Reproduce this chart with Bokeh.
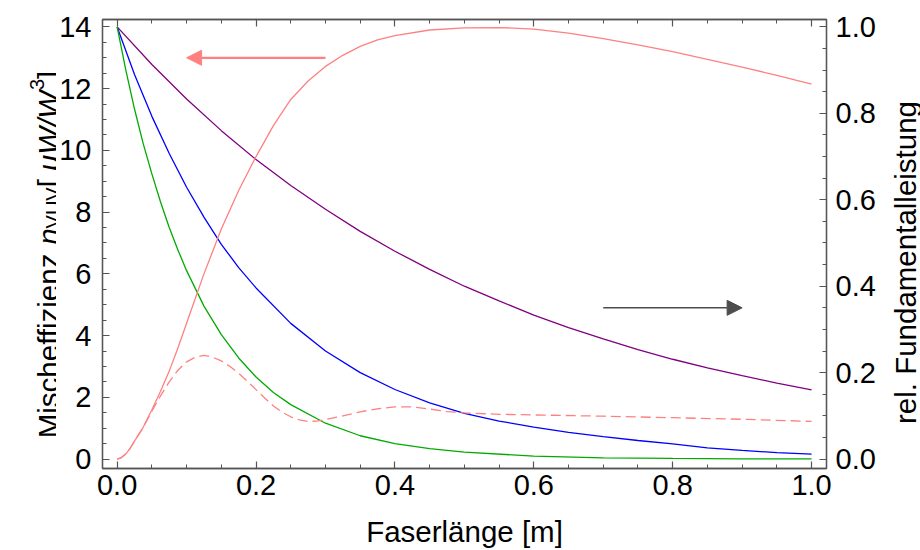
import math
from bokeh.plotting import figure
from bokeh.layouts import row
from bokeh.models import (Range1d, LinearAxis, Arrow, NormalHead,
                          SingleIntervalTicker, PrintfTickFormatter, CustomJSTickFormatter)
from bokeh.core.properties import value
from bokeh.embed import file_html
from bokeh.resources import INLINE

# ---------------- data ----------------
# mixing efficiency (left axis, µW/W^3)
x_eta = [0, 0.00625, 0.0125, 0.01875, 0.025, 0.0375, 0.05, 0.0625, 0.075, 0.0875, 0.1, 0.1125,
         0.125, 0.15, 0.175, 0.2, 0.225, 0.25, 0.275, 0.3, 0.325, 0.35, 0.375,
         0.4, 0.45, 0.5, 0.55, 0.6, 0.65, 0.7, 0.75, 0.8, 0.85, 0.9, 0.95, 1.0]
eta_solid = [0, 0.05, 0.17, 0.35, 0.58, 1.03, 1.6, 2.2, 2.85, 3.6, 4.4, 5.2,
             6.0, 7.45, 8.7, 9.8, 10.8, 11.65, 12.25, 12.72, 13.08, 13.37, 13.58,
             13.72, 13.9, 13.97, 13.98, 13.93, 13.8, 13.62, 13.42, 13.2, 12.95, 12.7, 12.43, 12.15]

x_eta_d = [0, 0.00625, 0.0125, 0.01875, 0.025, 0.0375, 0.05, 0.0625, 0.075, 0.0875, 0.1, 0.1125, 0.125,
           0.1375, 0.15, 0.1625, 0.175, 0.1875, 0.2, 0.2125, 0.225, 0.2375, 0.25,
           0.2625, 0.275, 0.2875, 0.3, 0.325, 0.35, 0.375, 0.4, 0.425, 0.45, 0.475,
           0.5, 0.55, 0.6, 0.7, 0.8, 0.9, 1.0]
eta_dashed = [0, 0.05, 0.17, 0.35, 0.58, 1.03, 1.55, 2.05, 2.5, 2.88, 3.15, 3.3, 3.36,
              3.3, 3.18, 3.0, 2.78, 2.52, 2.25, 1.98, 1.72, 1.52, 1.37,
              1.27, 1.22, 1.23, 1.28, 1.4, 1.53, 1.63, 1.69, 1.69, 1.62, 1.54,
              1.5, 1.45, 1.43, 1.39, 1.34, 1.29, 1.22]

# relative fundamental power (right axis)
x_pur = [0, 0.05, 0.1, 0.15, 0.2, 0.25, 0.3, 0.35, 0.4, 0.45, 0.5, 0.55, 0.6,
         0.65, 0.7, 0.75, 0.8, 0.85, 0.9, 0.95, 1.0]
p_purple = [1.0, 0.913, 0.833, 0.76, 0.693, 0.633, 0.578, 0.527, 0.481, 0.439, 0.40,
            0.366, 0.333, 0.304, 0.278, 0.253, 0.231, 0.211, 0.193, 0.176, 0.160]

x_blu = [0, 0.025, 0.05, 0.075, 0.1, 0.125, 0.15, 0.175, 0.2, 0.25, 0.3, 0.35, 0.4,
         0.45, 0.5, 0.55, 0.6, 0.65, 0.7, 0.75, 0.8, 0.85, 0.9, 0.95, 1.0]
p_blue = [1.0, 0.89, 0.793, 0.707, 0.629, 0.56, 0.497, 0.443, 0.396, 0.314, 0.25, 0.2, 0.161,
          0.13, 0.106, 0.088, 0.074, 0.062, 0.052, 0.043, 0.035, 0.026, 0.02, 0.015, 0.0115]

x_grn = [0, 0.0125, 0.025, 0.0375, 0.05, 0.0625, 0.075, 0.0875, 0.1, 0.125, 0.15, 0.175,
         0.2, 0.225, 0.25, 0.3, 0.35, 0.4, 0.45, 0.5, 0.6, 0.7, 0.8, 0.9, 1.0]
p_green = [1.0, 0.9, 0.81, 0.73, 0.66, 0.595, 0.536, 0.484, 0.436, 0.354, 0.288, 0.234,
           0.19, 0.154, 0.126, 0.083, 0.054, 0.036, 0.024, 0.016, 0.007, 0.003, 0.0015, 0.0007, 0.0003]

# arrows (start x, end x, level)
arrow_left = (0.3, 0.1, 13.0)     # left axis units
arrow_right = (0.7, 0.9, 0.35)    # right axis units

# texts
x_title = "Faserlänge [m]"
y2_title = "rel. Fundamentalleistung"
y1_title_parts = [("Mischeffizienz ", "normal", "main"),
                  ("η", "italic", "main"),
                  ("VUV", "normal", "sub"),
                  (" [", "normal", "main"),
                  ("μW/W", "italic", "main"),
                  ("3", "normal", "sup"),
                  ("]", "normal", "main")]

# ---------------- layout ----------------
W, H = 920, 550
LW_PANEL = 56          # left title strip width
RW_PANEL = 42          # right title strip width
PW = W - LW_PANEL - RW_PANEL
FL, FR, FT, FB = 101, 827, 19, 468   # frame edges in canvas px
X0, X1 = -0.0211, 1.0215
Y0, Y1 = -0.305, 14.24
RSCALE = 14.0

FONT = "Liberation Sans"
TICK_FS = "29px"
LAB_FS = 29.5
SUB_FS = 20
FRAME_COL = "#555555"
PINK = "#ff8080"

p = figure(width=PW, height=H, output_backend="svg", toolbar_location=None,
           x_range=Range1d(X0, X1), y_range=Range1d(Y0, Y1),
           min_border_left=FL - LW_PANEL, min_border_right=(W - RW_PANEL) - FR,
           min_border_top=FT, min_border_bottom=H - FB,
           x_axis_location=None, y_axis_location=None)
p.extra_y_ranges = {"right": Range1d(Y0 / RSCALE, Y1 / RSCALE)}
p.xgrid.visible = False
p.ygrid.visible = False
p.outline_line_color = FRAME_COL
p.outline_line_width = 1.3
p.background_fill_color = "white"
p.border_fill_color = "white"


def style_axis(ax):
    ax.axis_line_color = FRAME_COL
    ax.axis_line_width = 1.3
    ax.major_tick_line_color = FRAME_COL
    ax.minor_tick_line_color = FRAME_COL
    ax.major_tick_line_width = 1.2
    ax.minor_tick_line_width = 1.0
    ax.major_tick_in = 7
    ax.major_tick_out = 0
    ax.minor_tick_in = 4
    ax.minor_tick_out = 0
    ax.major_label_text_font = FONT
    ax.major_label_text_color = "black"
    ax.major_label_text_font_size = TICK_FS
    ax.axis_label_text_font = FONT
    ax.axis_label_text_font_style = "normal"
    ax.axis_label_text_color = "black"
    ax.axis_label_text_font_size = f"{LAB_FS}px"


xb = LinearAxis(ticker=SingleIntervalTicker(interval=0.2, num_minor_ticks=4),
                formatter=PrintfTickFormatter(format="%.1f"), axis_label=x_title)
style_axis(xb)
xb.major_label_standoff = 6
xb.axis_label_standoff = 17
p.add_layout(xb, "below")

xt = LinearAxis(ticker=SingleIntervalTicker(interval=0.2, num_minor_ticks=4),
                formatter=CustomJSTickFormatter(code="return ''"))
style_axis(xt)
xt.major_label_standoff = 0
p.add_layout(xt, "above")

yl = LinearAxis(ticker=SingleIntervalTicker(interval=2, num_minor_ticks=4))
style_axis(yl)
yl.major_label_standoff = 11
p.add_layout(yl, "left")

yr = LinearAxis(y_range_name="right",
                ticker=SingleIntervalTicker(interval=0.2, num_minor_ticks=4),
                formatter=PrintfTickFormatter(format="%.1f"))
style_axis(yr)
yr.major_label_standoff = 9
p.add_layout(yr, "right")

# ---------------- curves ----------------
LW = 1.3
p.line(x_pur, p_purple, y_range_name="right", line_color="#800080", line_width=LW)
p.line(x_blu, p_blue, y_range_name="right", line_color="#0000ff", line_width=LW)
p.line(x_grn, p_green, y_range_name="right", line_color="#00aa00", line_width=LW)
p.line(x_eta_d, eta_dashed, line_color=PINK, line_width=LW, line_dash="10 5")
p.line(x_eta, eta_solid, line_color=PINK, line_width=LW)

# ---------------- arrows ----------------
p.add_layout(Arrow(end=NormalHead(size=15, fill_color=PINK, line_color=PINK),
                   x_start=arrow_left[0], y_start=arrow_left[2],
                   x_end=arrow_left[1], y_end=arrow_left[2],
                   line_color=PINK, line_width=2.2))
p.add_layout(Arrow(end=NormalHead(size=15, fill_color="#4d4d4d", line_color="#4d4d4d"),
                   x_start=arrow_right[0], y_start=arrow_right[2],
                   x_end=arrow_right[1], y_end=arrow_right[2],
                   y_range_name="right",
                   line_color="#4d4d4d", line_width=1.5))


# ---------------- title strips (pixel coordinate figures) ----------------
def strip(width):
    f = figure(frame_width=width, frame_height=H, output_backend="svg",
               toolbar_location=None, title=None,
               x_range=Range1d(0, width), y_range=Range1d(0, H),
               min_border_left=0, min_border_right=0, min_border_top=0,
               min_border_bottom=0, min_border=0,
               x_axis_location=None, y_axis_location=None)
    f.xgrid.visible = False
    f.ygrid.visible = False
    f.outline_line_color = None
    f.background_fill_color = "white"
    f.border_fill_color = "white"
    return f


CW = {"M": .833, "i": .222, "s": .5, "c": .5, "h": .556, "e": .556, "f": .278,
      "z": .5, "n": .556, " ": .278, "η": .556, "V": .667, "U": .722, "[": .278,
      "]": .278, "μ": .576, "W": .944, "/": .278, "3": .556}


def tw(t, fs):
    return sum(CW.get(c, .556) for c in t) * fs


def vtext(f, x, ycanvas, text, style, fs, align="left"):
    # y given in canvas pixels from the top; strip y range runs upward
    f.text(x=[x], y=[H - ycanvas], text=[text], angle=math.pi / 2,
           text_font=value(FONT), text_font_style=value(style),
           text_font_size=value(f"{fs}px"), text_align=value(align),
           text_baseline=value("alphabetic"), text_color="black")


lf = strip(LW_PANEL)
sizes = {"main": (LAB_FS, 0), "sub": (SUB_FS, 4), "sup": (SUB_FS, -12)}
total = sum(tw(t, sizes[k][0]) for t, _, k in y1_title_parts)
baseline_px = 48
cur = 235 + total / 2
for t, style, k in y1_title_parts:
    fs, shift = sizes[k]
    vtext(lf, baseline_px + shift, cur, t, style, fs)
    cur -= tw(t, fs)

rf = strip(RW_PANEL)
vtext(rf, 905 - (W - RW_PANEL), 243, y2_title, "normal", LAB_FS, align="center")

layout = row(lf, p, rf, spacing=0)
open("out.html", "w").write(file_html(layout, INLINE))
